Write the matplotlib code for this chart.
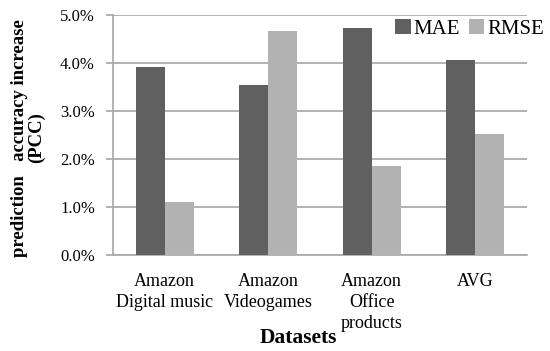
import numpy as np
import matplotlib.pyplot as plt

categories = ["Amazon\nDigital music", "Amazon\nVideogames", "Amazon\nOffice\nproducts", "AVG"]
mae = [3.92, 3.55, 4.73, 4.07]
rmse = [1.10, 4.67, 1.85, 2.53]
yticks = [0, 1, 2, 3, 4, 5]

plt.rcParams['font.family'] = ['Liberation Serif', 'DejaVu Serif']

fig = plt.figure(figsize=(5.5, 3.51), dpi=100)
ax = fig.add_axes([113 / 550, 1 - 255 / 351, 414 / 550, 240 / 351])

x = np.arange(len(categories))
w = 0.28
ax.bar(x - w / 2, mae, w, color='#606060', label='MAE', zorder=3)
ax.bar(x + w / 2, rmse, w, color='#b2b2b2', label='RMSE', zorder=3)

ax.set_xlim(-0.5, len(categories) - 0.5)
ax.set_ylim(0, 5)
ax.set_yticks(yticks)
ax.set_yticklabels([f"{v:.1f}%" for v in yticks], fontsize=12)
ax.yaxis.grid(True, color='#a6a6a6', linewidth=1.2, zorder=0)
ax.tick_params(axis='y', length=5, color='#a6a6a6', width=1.2, pad=8)
ax.set_xticks(x)
ax.set_xticklabels(categories, fontsize=13, va='top', linespacing=1.3)
ax.tick_params(axis='x', length=0, pad=13)

for s in ['top', 'right']:
    ax.spines[s].set_visible(False)
for s in ['left', 'bottom']:
    ax.spines[s].set_color('#a6a6a6')
    ax.spines[s].set_linewidth(1.2)

fig.text(298 / 550, 1 - 338 / 351, "Datasets", fontsize=15.5, fontweight='bold',
         ha='center', va='center')
fig.text(28 / 550, 1 - 138 / 351, "prediction   accuracy increase\n(PCC)", fontsize=13.5,
         fontweight='bold', rotation=90, ha='center', va='center', linespacing=1.05)

fig.legend(loc='upper right', bbox_to_anchor=(544 / 550, 1 - 19 / 351), ncol=2, frameon=False,
           fontsize=15, handlelength=0.75, handleheight=0.75, handletextpad=0.15,
           columnspacing=0.4, borderpad=0, borderaxespad=0)

fig.savefig('out.png', dpi=100)
